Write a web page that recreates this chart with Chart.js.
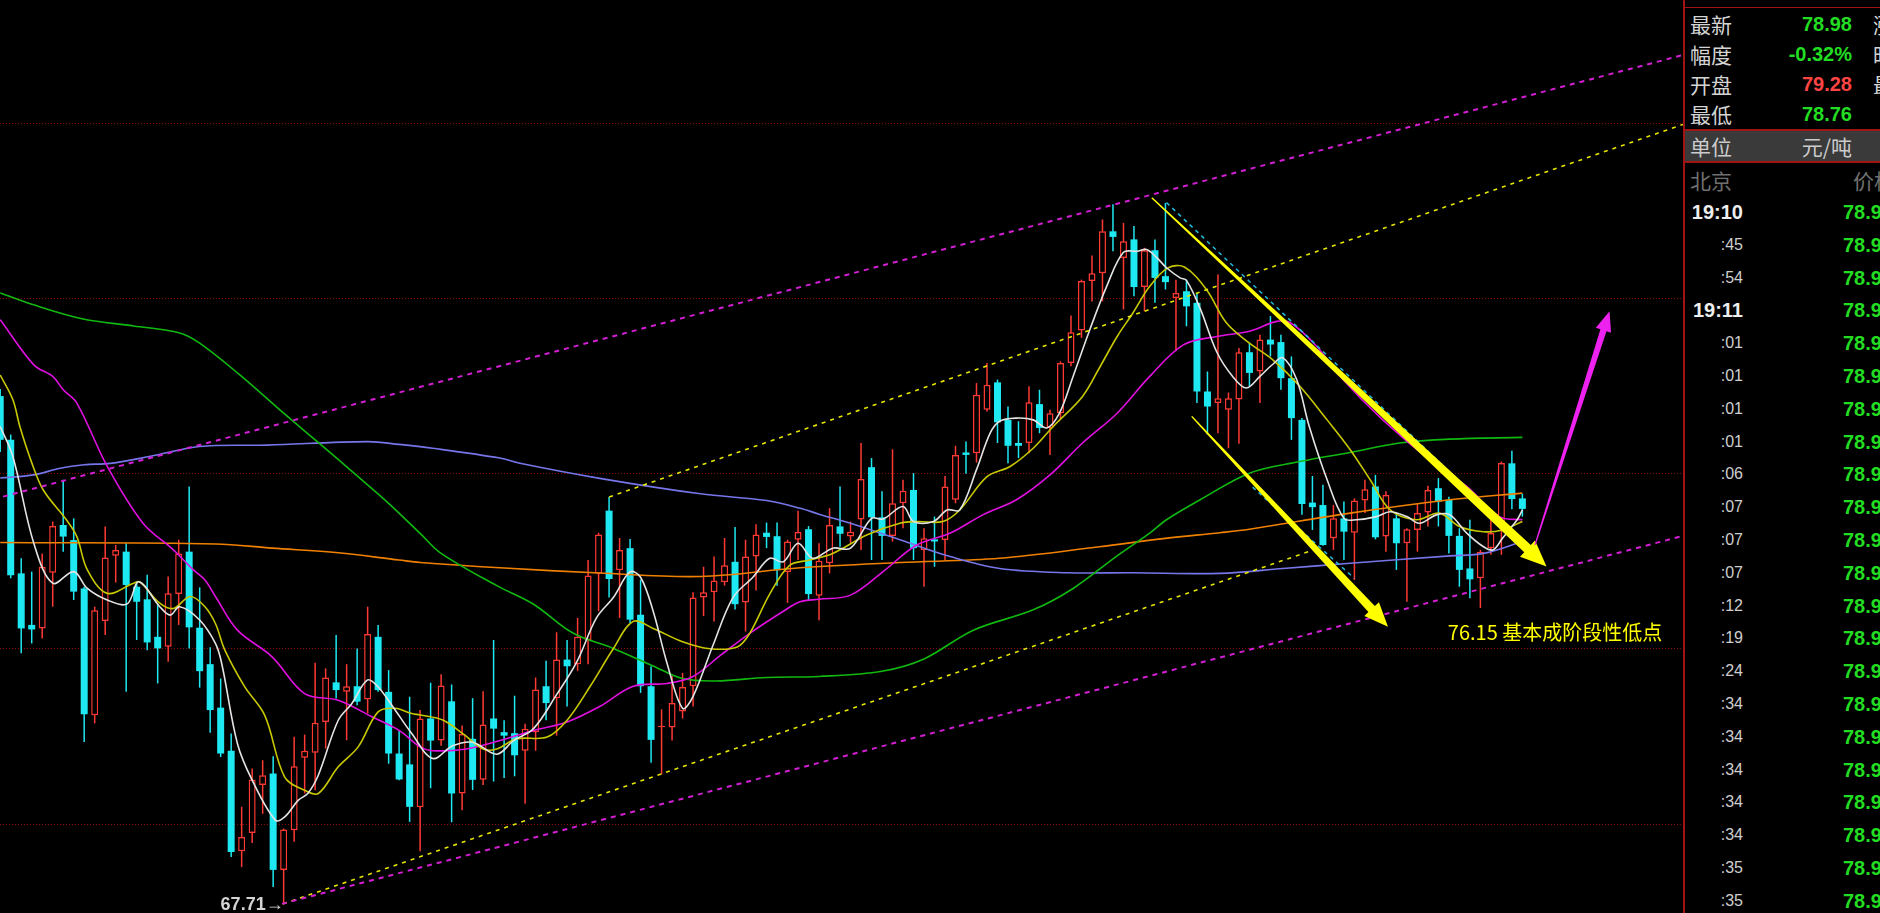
<!DOCTYPE html>
<html><head><meta charset="utf-8">
<script src="https://cdn.jsdelivr.net/npm/chart.js@4.4.1/dist/chart.umd.min.js"></script>
<style>
html,body{margin:0;padding:0;background:#000;overflow:hidden;width:1880px;height:913px;}
#wrap{position:absolute;left:0;top:0;width:1683px;height:913px;}
#panel{position:absolute;left:1683px;top:0;width:197px;height:913px;overflow:hidden;font-family:"Noto Sans CJK SC","Liberation Sans",sans-serif;}
#panel div{position:absolute;white-space:nowrap;}
</style></head><body>
<div id="wrap"><canvas id="c"></canvas></div>
<div id="panel"></div>
<script>
// ---------- candle data (index 0..145) ----------
const opens = [82.2,80.95,77.14,75.67,75.57,77.16,78.52,78.09,76.71,73.09,75.78,77.64,77.76,76.76,76.4,75.33,75.05,76.55,77.76,75.59,
74.55,73.31,72.08,69.21,69.73,71.1,71.43,68.68,69.81,71.88,72.02,72.9,74.03,73.76,73.92,73.54,75.33,73.76,72.0,71.69,
70.47,73.0,72.37,73.49,70.86,72.42,71.25,73.0,72.61,72.58,72.08,72.61,73.92,73.58,74.68,74.55,75.24,77.13,78.93,77.23,
77.86,75.96,73.92,72.75,72.74,73.2,73.92,76.45,76.6,76.89,77.47,76.31,77.62,78.3,78.2,77.18,78.1,78.4,76.5,77.43,
78.48,78.19,78.68,80.17,78.74,78.21,79.14,79.52,77.81,78.11,78.09,79.24,80.59,80.57,81.81,82.59,81.52,80.86,80.86,81.97,
81.29,81.71,83.14,84.07,85.48,85.7,86.9,86.14,86.67,85.31,86.36,85.62,85.0,85.19,84.86,82.33,82.0,81.81,82.1,83.45,
82.9,83.81,83.74,82.71,81.52,79.16,79.09,78.14,78.71,78.3,79.22,79.62,78.19,78.71,78.0,78.38,78.88,79.57,79.24,78.21,
77.28,77.0,77.86,78.59,80.28,79.28];
const highs = [82.4,81.1,77.57,77.19,77.71,78.62,79.81,78.71,76.76,76.19,78.48,77.95,78.0,76.9,77.1,76.24,77.05,78.1,79.62,76.74,
75.03,74.14,72.57,70.48,71.57,71.81,71.92,69.86,72.48,72.54,74.59,74.43,75.38,74.55,75.0,76.19,75.67,74.38,72.67,73.62,
73.24,74.02,74.26,73.97,72.8,73.58,73.78,75.24,72.95,73.65,72.85,74.17,74.65,75.46,75.24,75.87,77.52,78.3,79.32,78.15,
78.12,76.96,74.49,73.26,74.22,74.3,76.6,77.33,77.62,78.15,78.46,78.1,78.54,78.59,78.59,78.1,78.93,78.49,78.0,79.0,
79.62,78.62,80.86,80.43,79.48,80.68,79.81,80.0,78.43,78.76,79.92,80.78,80.9,82.57,83.14,82.67,81.9,81.48,82.48,82.38,
81.81,83.19,84.5,85.52,86.21,87.24,87.67,87.14,87.05,86.43,86.67,87.71,85.52,85.52,85.14,82.9,85.67,82.3,83.57,83.71,
83.95,84.48,83.95,83.33,81.57,79.92,79.67,79.09,79.19,79.28,79.81,79.95,79.48,78.86,78.43,79.14,79.64,79.86,79.33,78.43,
78.67,77.81,78.67,80.33,80.64,79.41];
const lows = [80.6,77.0,74.86,75.14,75.28,76.19,77.76,76.38,72.33,72.86,75.38,76.88,73.76,75.24,74.95,74.0,74.62,75.67,75.0,73.88,
72.59,71.9,69.05,68.76,69.45,70.28,68.19,67.71,69.48,70.86,70.95,72.14,73.57,72.38,73.38,73.14,73.76,71.71,71.24,70.05,
69.21,71.01,72.22,70.04,70.38,70.96,71.1,71.2,71.3,71.35,70.57,72.08,72.95,72.51,73.34,74.36,74.55,76.06,76.45,75.87,
75.72,73.73,71.74,71.4,72.37,73.0,73.34,75.92,75.77,76.79,76.11,75.48,76.65,77.86,76.79,76.3,77.52,76.35,75.8,77.14,
77.9,78.0,77.81,77.52,77.52,78.05,78.43,77.52,76.76,77.33,77.52,79.14,79.98,80.3,81.76,80.86,80.28,80.43,80.57,81.14,
80.52,81.54,83.05,83.86,84.9,84.9,86.33,84.67,85.05,84.62,84.86,85.24,83.48,84.19,82.0,81.1,81.14,80.71,80.84,82.48,
82.0,83.33,82.38,80.95,78.81,78.38,77.93,77.81,77.52,76.95,78.86,78.11,77.76,77.24,76.33,77.76,78.48,78.48,77.71,76.76,
76.43,76.15,77.67,77.67,78.97,78.76];
const closes = [80.95,77.09,75.57,75.54,77.33,78.49,78.19,76.62,73.12,76.09,77.59,77.81,76.81,76.33,75.17,75.0,76.57,77.71,75.6,74.35,
73.24,72.0,69.19,69.62,71.26,71.38,68.68,69.83,71.64,72.08,72.88,74.17,73.81,73.92,73.48,75.41,73.81,72.0,71.26,70.48,
73.0,72.37,73.94,70.86,72.56,71.25,72.83,72.71,72.51,71.95,72.71,73.83,73.44,74.68,74.49,75.33,77.08,78.25,76.98,77.81,
75.82,73.92,72.39,72.79,73.44,73.9,76.45,76.6,76.94,77.37,76.26,77.62,78.25,78.18,77.23,78.05,78.32,76.55,77.5,78.52,
78.27,78.33,79.83,78.74,78.21,79.14,79.5,77.86,78.14,78.05,79.62,80.52,80.52,82.24,82.52,81.45,80.78,80.78,82.02,81.29,
81.71,83.14,84.02,85.48,85.7,86.9,86.74,86.62,85.31,86.36,85.57,85.45,85.14,84.76,82.33,81.9,82.14,82.14,83.45,82.86,
83.81,83.67,82.71,81.57,79.12,79.03,77.95,78.71,78.33,79.22,79.54,78.17,79.38,78.0,78.4,78.86,79.52,79.19,78.21,77.24,
76.97,77.76,78.29,80.29,79.26,78.98];

// ---------- moving averages: [candle index, price] ----------
const ma5 = [[0,81.33],[1.2,80.48],[3.2,78.0],[5,76.86],[7,77.19],[8.3,76.71],[10.2,76.38],[12.1,76.27],[13.2,76.9],[15.2,76.19],[16.2,75.95],[17.1,76.19],[19,75.81],[20.5,75.14],
[21.1,74.57],[22.6,72.28],[24,71.24],[26.2,70.1],[27.1,70.19],[28.4,70.67],[29.3,70.86],[30.3,71.38],[32.2,72.95],[33.5,73.43],[35,74.1],[36,73.9],[37.3,73.38],[39.2,72.57],
[41.2,71.86],[43.1,72.22],[45,72.32],[47.3,71.98],[48.9,72.37],[50.8,72.71],[53,73.68],[54.9,74.6],[56.8,75.87],[58.4,76.45],[60,77.18],[61,77.03],[62.2,76.06],[63.5,74.6],
[65,73.29],[66,73.63],[67.9,75.09],[69.8,76.45],[71.7,77.03],[73.3,77.57],[74.6,77.47],[76,78.0],[77.4,77.57],[79.3,77.86],[81,77.86],[83,78.71],[84.1,78.69],[86,79.05],
[87,78.62],[88.9,78.62],[90.2,78.95],[91.4,78.95],[93,80.1],[94.3,81.14],[95.2,81.48],[96.8,81.57],[98.4,81.52],[99.7,81.29],[100.9,81.71],[102.2,82.76],[103.8,84.1],
[105.4,85.33],[107,86.3],[108.3,86.33],[109.2,86.38],[110.2,86.14],[111.1,85.86],[112.4,85.57],[113,85.5],[114.3,84.7],[115.9,83.45],[117.4,82.76],[118.7,82.43],[120,82.76],
[121.2,83.1],[122.2,83.29],[123.5,82.67],[124.7,81.33],[126.4,79.81],[128,78.71],[129.2,78.67],[131.1,78.76],[132.4,78.9],[134,78.76],[135.2,78.57],[136.8,78.81],[138.1,78.81],
[139.7,78.29],[141.3,77.9],[142.2,77.81],[143.1,78.14],[144.5,78.67],[145,78.95]];
const ma10 = [[0,82.8],[1.2,82.1],[1.9,81.3],[3,80.3],[4.1,79.52],[6.3,78.67],[7.3,78.19],[8.3,77.24],[10.2,76.57],[12.7,76.86],[13.3,76.9],[15.2,76.29],[16.5,76.14],[18.1,76.48],
[19.5,76.19],[20.5,75.71],[21.4,74.95],[23.3,73.9],[25.2,73.09],[27.1,71.33],[29,70.95],[30.3,70.86],[32.2,71.62],[34.1,72.19],[36,73.19],[37.6,73.29],[39.2,73.14],[40,73.1],
[42.2,72.95],[44.1,72.56],[46,72.13],[47.3,72.13],[49.2,72.42],[52.1,72.47],[54,72.95],[56.2,73.92],[58.4,74.99],[60.3,75.77],[62.2,75.57],[65,75.19],[67.6,74.99],[70.2,75.04],
[71.4,75.43],[73.3,76.55],[75.2,77.37],[77.1,77.52],[79.3,77.71],[82.6,78.24],[85.7,78.57],[87.3,78.62],[89.8,78.62],[91.4,78.95],[94,79.9],[96.2,80.19],[98.4,80.71],[100.3,81.33],
[103.1,82.19],[104.7,83.0],[106.4,83.9],[107.9,84.57],[109.5,85.33],[111.2,85.85],[112.8,85.88],[114.9,85.24],[116.8,84.29],[119,83.71],[121.2,83.24],[123.8,82.48],[126.4,81.52],
[128.6,80.67],[130.5,79.81],[132.4,78.95],[134.9,78.67],[137.1,78.86],[139,78.48],[141.3,78.33],[143.1,78.38],[145,78.62]];
const ma20 = [[0,84.38],[3.2,83.09],[5,82.76],[6,82.38],[7.3,82.0],[10.2,80.19],[13.6,78.57],[16.5,77.81],[18.4,77.24],[19.5,76.95],[20.5,76.48],[22.6,75.52],[25.9,74.76],[29,73.71],
[32.2,73.52],[35.4,73.05],[38,72.66],[40,72.19],[41.2,72.08],[44.4,72.13],[47.6,72.37],[50.8,72.66],[54,72.9],[57.1,73.34],[60.3,73.92],[63.5,74.0],[66,74.2],[68.6,74.8],[71.4,75.43],
[74.6,76.06],[76.2,76.33],[78,76.4],[81,76.52],[84.1,77.19],[87.3,77.95],[90.5,78.29],[93.6,78.81],[96.8,79.24],[100,79.95],[103.1,80.86],[106.4,81.71],[109.5,82.76],[112.7,83.66],
[115.9,83.9],[119,84.05],[121.6,84.33],[122.9,84.29],[125.4,83.62],[127.9,82.67],[131.7,81.52],[136.5,80.29],[139.7,79.62],[142.8,78.76],[145,78.67]];
const ma60 = [[0,85.14],[3.1,84.81],[7.9,84.4],[12.7,84.2],[17.1,84.0],[19,83.71],[22.8,82.81],[27,81.71],[30.4,80.85],[33.7,80.0],[37,79.14],[40,78.28],[42,77.71],[47.3,76.79],
[50.8,76.26],[54.6,75.43],[58.4,75.0],[62.2,74.5],[65,74.14],[68.2,74.07],[73,74.17],[78,74.2],[84,74.35],[88,74.7],[92.7,75.52],[98.4,76.1],[102.2,76.71],[106.3,77.62],[109.5,78.29],
[111.1,78.67],[114.3,79.24],[119,80.0],[123.8,80.33],[128.6,80.59],[133.3,80.86],[138.1,80.97],[145,81.02]];
const ma120 = [[0,79.86],[3.2,79.95],[5.7,80.14],[8,80.24],[10.5,80.28],[14.3,80.48],[19,80.76],[25.4,80.8],[35,80.9],[38,80.82],[41.2,80.71],[47.6,80.43],[49.5,80.28],[57.1,79.85],
[66.7,79.41],[73,79.22],[76.2,79.0],[78,78.83],[81,78.57],[85.7,78.1],[90.5,77.62],[95.2,77.28],[101.6,77.16],[107.9,77.16],[116.2,77.14],[122.2,77.28],[128.6,77.43],[138.1,77.64],
[141.3,77.71],[145,78.05]];
const ma250 = [[0,78.02],[20.5,77.98],[25.9,77.86],[32.2,77.73],[38,77.52],[40,77.45],[47.6,77.3],[57.1,77.15],[66.7,77.05],[76.2,77.3],[85.7,77.45],[95.2,77.57],[104.7,77.9],
[111,78.14],[116.2,78.3],[119,78.4],[128.6,78.86],[138.1,79.24],[145,79.43]];

// ---------- drawn study lines: [candle index, price] ----------
const channelUpper = [[0.27,79.33],[160.3,91.93]];
const channelLower = [[26.84,67.71],[160.3,78.21]];
const yellowUpper = [[58,79.32],[160.3,89.95]];
const yellowLower = [[26.93,67.71],[125.7,77.87]];
const cyanUpper = [[111.1,87.72],[137.5,80.2]];
const cyanLower = [[119.3,79.6],[129,77.0]];
const arrowYellowA = [[109.7,87.86],[147.3,77.34]];
const arrowYellowB = [[113.5,81.62],[132.2,75.62]];
const arrowMagenta = [[146.2,77.95],[153.3,84.62]];
const gridPrices = [70,75,80,85,90];
const lowMark = [27, 67.71, '67.71→'];
const noteMark = [137.9, 75.47, '76.15 基本成阶段性低点'];

// ---------- right panel texts ----------
const quoteLabels = ['最新','幅度','开盘','最低'];
const quoteValues = ['78.98','-0.32%','79.28','78.76'];
const quoteColors = ['#22dd22','#22dd22','#ff4444','#22dd22'];
const quoteSide = ['涨','昨','最',''];
const tickTimes = ['19:10',':45',':54','19:11',':01',':01',':01',':01',':06',':07',':07',':07',':12',':19',':24',':34',':34',':34',':34',':34',':35',':35'];
const tickPrices = ['78.98','78.98','78.98','78.98','78.98','78.98','78.98','78.98','78.98','78.98','78.98','78.98','78.98','78.98','78.98','78.98','78.98','78.98','78.98','78.98','78.98','78.98'];

// ---------- build panel ----------
(function(){
  const p = document.getElementById('panel');
  function add(style, text){ const d=document.createElement('div'); Object.assign(d.style, style); if(text!==undefined) d.textContent=text; p.appendChild(d); return d; }
  const RED='#a01414';
  add({left:'0px',top:'0px',width:'2px',height:'913px',background:RED});
  add({left:'0px',top:'7px',width:'197px',height:'1px',background:RED});
  quoteLabels.forEach((t,k)=>{
    const top = 9 + 30*k;
    add({left:'7px',top:top+'px',height:'30px',lineHeight:'30px',fontSize:'21px',color:'#d4d4d4'}, t);
    add({right:(197-169)+'px',top:top+'px',height:'30px',lineHeight:'30px',fontSize:'20px',fontWeight:'bold',color:quoteColors[k],fontFamily:'"Liberation Sans",Arial,sans-serif'}, quoteValues[k]);
    if (quoteSide[k]) add({left:'190px',top:top+'px',height:'30px',lineHeight:'30px',fontSize:'21px',color:'#d4d4d4'}, quoteSide[k]);
  });
  add({left:'2px',top:'129px',width:'195px',height:'2px',background:RED});
  add({left:'2px',top:'131px',width:'195px',height:'30px',background:'#3a3a3a'});
  add({left:'2px',top:'161px',width:'195px',height:'2px',background:RED});
  add({left:'7px',top:'131px',height:'30px',lineHeight:'30px',fontSize:'21px',color:'#cccccc'}, '单位');
  add({right:(197-169)+'px',top:'131px',height:'30px',lineHeight:'30px',fontSize:'21px',color:'#cccccc'}, '元/吨');
  add({left:'7px',top:'165px',height:'30px',lineHeight:'30px',fontSize:'21px',color:'#707070'}, '北京');
  add({left:'170px',top:'165px',height:'30px',lineHeight:'30px',fontSize:'21px',color:'#707070'}, '价格');
  tickTimes.forEach((t,k)=>{
    const cy = 212 + 32.8*k;
    const big = t.length > 3;
    add({right:(197-60)+'px',top:(cy-15)+'px',height:'30px',lineHeight:'30px',fontFamily:'"Liberation Sans",Arial,sans-serif',
         fontSize: big ? '20px':'16px', fontWeight: big ? 'bold':'normal', color: big ? '#eeeeee':'#cfcfcf'}, t);
    add({left:'160px',top:(cy-15)+'px',height:'30px',lineHeight:'30px',fontFamily:'"Liberation Sans",Arial,sans-serif',
         fontSize:'20px',fontWeight:'bold',color:'#22dd22'}, tickPrices[k]);
  });
})();

// ---------- chart ----------
const UP='#ff3a34', DOWN='#1ee8f2';
const idx = closes.map((_,i)=>i);
const isUp = idx.map(i=>closes[i]>=opens[i]);
const pts = arr => arr.map(a=>({x:a[0],y:a[1]}));

const gridPlugin = {
  id:'grid',
  beforeDatasetsDraw(chart){
    const {ctx, chartArea:a, scales:{y}} = chart;
    ctx.save();
    ctx.strokeStyle='#8a0a0a'; ctx.lineWidth=1; ctx.setLineDash([1,2]);
    gridPrices.forEach(v=>{
      const py = Math.round(y.getPixelForValue(v))+0.5;
      ctx.beginPath(); ctx.moveTo(a.left,py); ctx.lineTo(a.right,py); ctx.stroke();
    });
    ctx.restore();
  }
};
function arrow(ctx,x0,y0,x1,y1,w0,w1,hl,hh,color){
  const dx=x1-x0, dy=y1-y0, L=Math.hypot(dx,dy), ux=dx/L, uy=dy/L, nx=-uy, ny=ux;
  const hx=x1-ux*hl, hy=y1-uy*hl;
  ctx.beginPath();
  ctx.moveTo(x0+nx*w0,y0+ny*w0);
  ctx.lineTo(hx+nx*w1,hy+ny*w1);
  ctx.lineTo(hx+nx*hh,hy+ny*hh);
  ctx.lineTo(x1,y1);
  ctx.lineTo(hx-nx*hh,hy-ny*hh);
  ctx.lineTo(hx-nx*w1,hy-ny*w1);
  ctx.lineTo(x0-nx*w0,y0-ny*w0);
  ctx.closePath(); ctx.fillStyle=color; ctx.fill();
}
const notePlugin = {
  id:'notes',
  afterDatasetsDraw(chart){
    const {ctx, scales:{x,y}} = chart;
    const P = a => [x.getPixelForValue(a[0]), y.getPixelForValue(a[1])];
    ctx.save();
    let s=P(arrowYellowA[0]), e=P(arrowYellowA[1]);
    arrow(ctx,s[0],s[1],e[0],e[1],0.7,4.8,26,11,'#ffff00');
    s=P(arrowYellowB[0]); e=P(arrowYellowB[1]);
    arrow(ctx,s[0],s[1],e[0],e[1],0.7,4.4,24,10,'#ffff00');
    s=P(arrowMagenta[0]); e=P(arrowMagenta[1]);
    arrow(ctx,s[0],s[1],e[0],e[1],0.6,3.2,20,8,'#ee22ee');
    const lm = P(lowMark);
    ctx.font='bold 18px "Liberation Sans","DejaVu Sans",sans-serif';
    ctx.fillStyle='#d4d4d4'; ctx.textAlign='right'; ctx.textBaseline='middle';
    ctx.fillText(lowMark[2], lm[0], lm[1]+1);
    const nm = P(noteMark);
    ctx.font='20px "Noto Sans CJK SC",sans-serif';
    ctx.fillStyle='#ffff00'; ctx.textAlign='left';
    ctx.fillText(noteMark[2], nm[0], nm[1]);
    ctx.restore();
  }
};
const lineDs = (data,color,order,extra) => Object.assign({type:'line',data:pts(data),borderColor:color,borderWidth:1.6,pointRadius:0,
  fill:false,tension:0.35,order:order}, extra||{});

new Chart(document.getElementById('c'), {
  type:'bar',
  data:{ datasets:[
    lineDs(channelUpper,'#d41ed4',0,{borderDash:[5,5],borderWidth:2,tension:0}),
    lineDs(channelLower,'#d41ed4',0,{borderDash:[5,5],borderWidth:2,tension:0}),
    lineDs(yellowUpper,'#e6e600',0,{borderDash:[4,5],borderWidth:1.6,tension:0}),
    lineDs(yellowLower,'#e6e600',0,{borderDash:[4,5],borderWidth:1.6,tension:0}),
    lineDs(cyanUpper,'#22b8d8',0,{borderDash:[4,4],borderWidth:1.5,tension:0}),
    lineDs(cyanLower,'#22b8d8',0,{borderDash:[4,4],borderWidth:1.5,tension:0}),
    lineDs(ma5,'#e4e4e4',1),
    lineDs(ma10,'#c8c800',1),
    lineDs(ma20,'#e010e0',1),
    lineDs(ma60,'#10b810',1),
    lineDs(ma120,'#7676ea',1),
    lineDs(ma250,'#f08000',1),
    { type:'bar', data: idx.map(i=>({x:i,y:[opens[i],closes[i]]})), grouped:false, barThickness:7, minBarLength:1.5,
      backgroundColor: idx.map(i=>isUp[i]?'#000000':DOWN), borderColor: idx.map(i=>isUp[i]?UP:DOWN),
      borderWidth: idx.map(i=>isUp[i]?1.5:0), borderSkipped:false, inflateAmount:0, order:5 },
    { type:'bar', data: idx.map(i=>({x:i,y:[lows[i],highs[i]]})), grouped:false, barThickness:1.5,
      backgroundColor: idx.map(i=>isUp[i]?UP:DOWN), borderWidth:0, borderSkipped:false, inflateAmount:0, order:6 }
  ]},
  options:{
    responsive:true, maintainAspectRatio:false, animation:false,
    layout:{padding:0},
    plugins:{legend:{display:false}, tooltip:{enabled:false}},
    scales:{
      x:{type:'linear', min:-0.02, max:160.3, offset:false, display:false},
      y:{type:'linear', min:67.45, max:93.5, display:false}
    }
  },
  plugins:[gridPlugin, notePlugin]
});
</script>
</body></html>
